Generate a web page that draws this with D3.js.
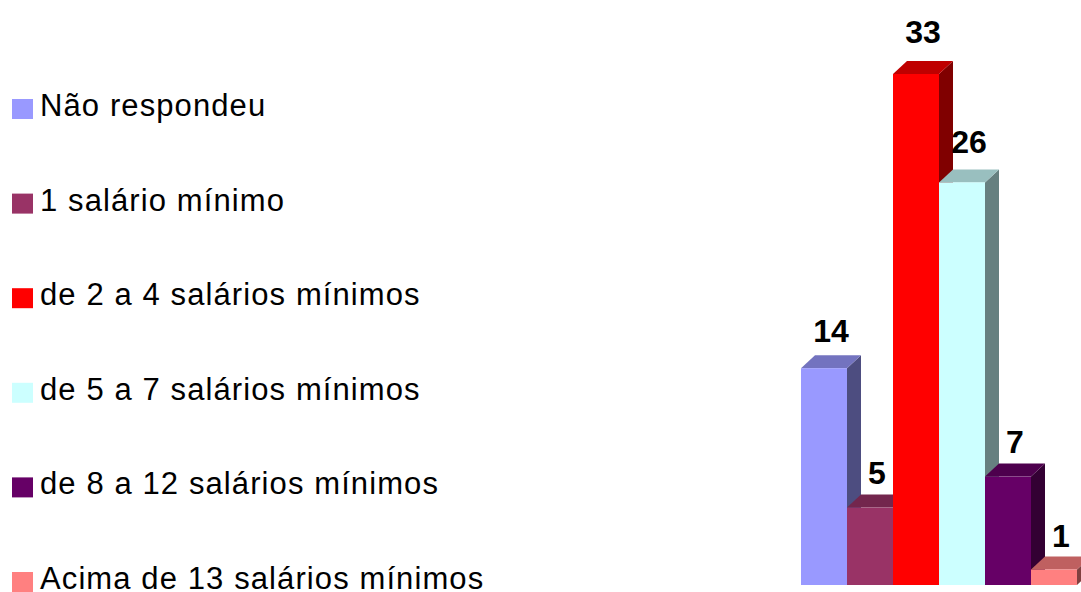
<!DOCTYPE html>
<html>
<head>
<meta charset="utf-8">
<script src="https://cdn.jsdelivr.net/npm/d3@7"></script>
<style>
  html, body { margin: 0; padding: 0; background: #fff; }
  svg { display: block; }
</style>
</head>
<body>
<svg id="chart" width="1081" height="592"></svg>
<script>
// Renda familiar — faixas salariais
const categories = [
  "Não respondeu",
  "1 salário mínimo",
  "de 2 a 4 salários mínimos",
  "de 5 a 7 salários mínimos",
  "de 8 a 12 salários mínimos",
  "Acima de 13 salários mínimos"
];
const values = [14, 5, 33, 26, 7, 1];
const colors = ["#9999FF", "#993366", "#FF0000", "#CCFFFF", "#660066", "#FF8080"];

const svg = d3.select("#chart");

const x = d3.scaleBand().domain(categories).range([801, 1077]).padding(0);
const y = d3.scaleLinear().domain([0, 33]).range([585, 74]);

// 3D extrusion offset
const dx = 14, dy = 13;

const shade = (c, k) => {
  const r = d3.rgb(c);
  return d3.rgb(r.r * k, r.g * k, r.b * k).formatHex();
};

const data = categories.map((c, i) => ({ cat: c, value: values[i], color: colors[i] }));

const bars = svg.append("g").selectAll("g").data(data).join("g");

// side face
bars.append("path")
  .attr("fill", d => shade(d.color, 0.5))
  .attr("d", d => {
    const x1 = x(d.cat) + x.bandwidth(), t = y(d.value), b = y(0);
    return `M${x1},${b}L${x1},${t}L${x1 + dx},${t - dy}L${x1 + dx},${b - dy}Z`;
  });
// top face
bars.append("path")
  .attr("fill", d => shade(d.color, 0.75))
  .attr("d", d => {
    const x0 = x(d.cat), x1 = x0 + x.bandwidth(), t = y(d.value);
    return `M${x0},${t}L${x0 + dx},${t - dy}L${x1 + dx},${t - dy}L${x1},${t}Z`;
  });
// front face
bars.append("rect")
  .attr("x", d => x(d.cat))
  .attr("y", d => y(d.value))
  .attr("width", x.bandwidth())
  .attr("height", d => y(0) - y(d.value))
  .attr("fill", d => d.color);

// value labels, lifted a little more over taller bars
svg.append("g").selectAll("text").data(data).join("text")
  .attr("x", d => x(d.cat) + x.bandwidth() / 2 + dx / 2)
  .attr("y", d => y(d.value) - 22 - 0.27 * d.value)
  .attr("text-anchor", "middle")
  .attr("font-family", "Liberation Sans, Arial, sans-serif")
  .attr("font-weight", "bold")
  .attr("font-size", 32)
  .attr("fill", "#000")
  .text(d => d.value);

// legend
const legend = d3.scaleLinear().domain([0, categories.length - 1]).range([99, 572]);
const items = svg.append("g").selectAll("g").data(data).join("g")
  .attr("transform", (d, i) => `translate(12,${legend(i)})`);
items.append("rect")
  .attr("width", 21).attr("height", 20)
  .attr("fill", d => d.color);
items.append("text")
  .attr("x", 28)
  .attr("y", 17)
  .attr("font-family", "Liberation Sans, Arial, sans-serif")
  .attr("font-size", 31)
  .attr("letter-spacing", 1.1)
  .attr("fill", "#000")
  .text(d => d.cat);
</script>
</body>
</html>
